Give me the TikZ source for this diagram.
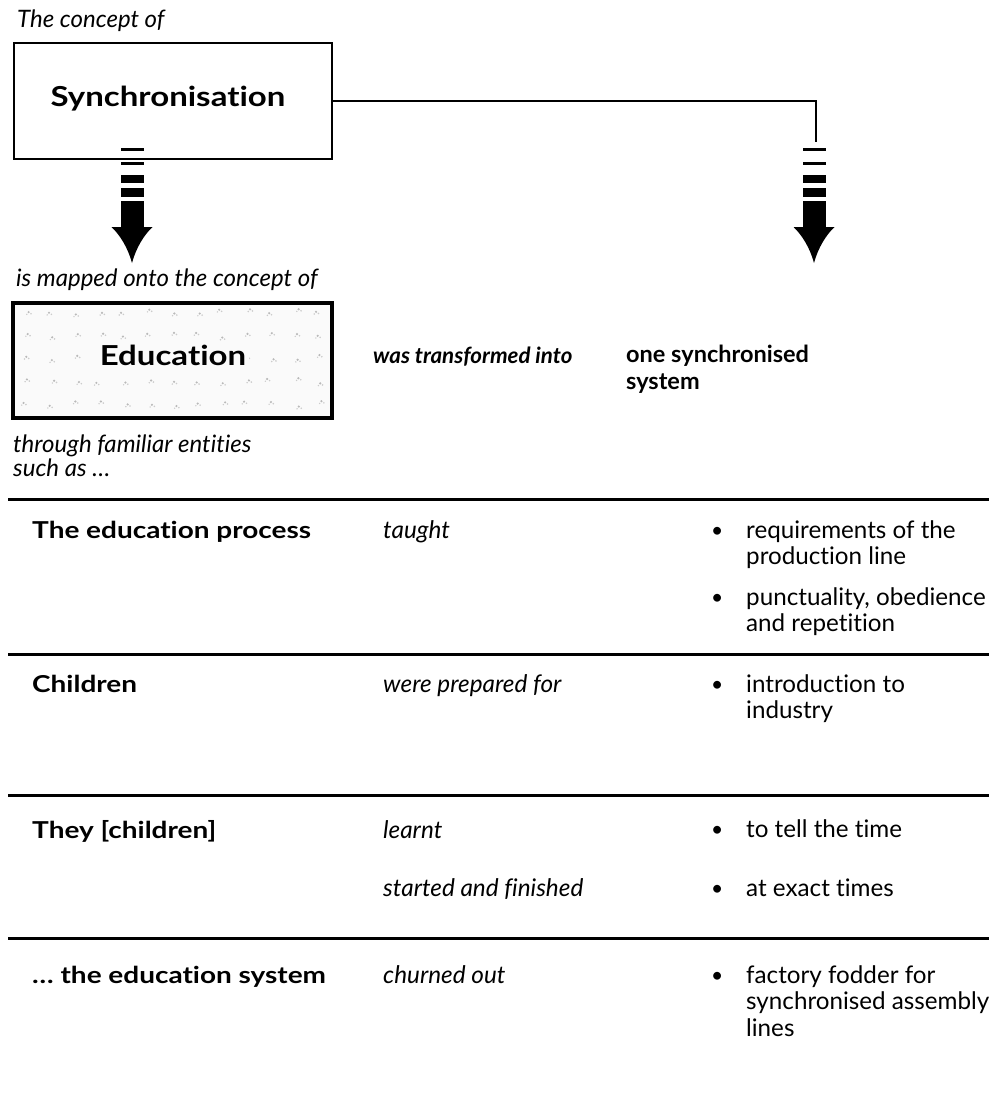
\documentclass[tikz,border=0pt]{standalone}
\usepackage{fontspec}
\setmainfont{Lato}[Ligatures=NoCommon]
\newfontfamily\wbold[FakeStretch=1.2,Ligatures=NoCommon]{Lato}
\begin{document}
\begin{tikzpicture}[x=1pt,y=-1pt,
  captxt/.style={anchor=base west, inner sep=0pt, font=\fontsize{24}{28}\selectfont\itshape},
  labtxt/.style={anchor=base west, inner sep=0pt, font=\wbold\fontsize{23.3}{26}\selectfont\bfseries},
  midtxt/.style={anchor=base west, inner sep=0pt, font=\fontsize{24.3}{28}\selectfont\itshape},
  bodytxt/.style={anchor=base west, inner sep=0pt, font=\fontsize{24.2}{28}\selectfont},
  bultxt/.style={anchor=base west, inner sep=0pt, font=\fontsize{21}{26}\selectfont},
  headtxt/.style={anchor=base west, inner sep=0pt, font=\fontsize{23.5}{26}\selectfont\bfseries},
  bigtxt/.style={font=\wbold\fontsize{27.5}{30}\selectfont\bfseries},
  hrule/.style={line width=3pt},
  conn/.style={line width=2.2pt}]
\useasboundingbox (0,0) rectangle (989,1094);

% top concept box
\node[captxt] (c1) at (17,28) {The concept of};
\node[draw, line width=2.5pt, minimum width=318pt, minimum height=116pt, inner sep=0pt,
      bigtxt] (sync) at (173,101) {};
\node[bigtxt, anchor=base, inner sep=0pt] (synct) at (168,107) {Synchronisation};

% arrows
\newcommand\mkarrow[1]{%
  \fill (#1-11.5,148.5) rectangle (#1+11.5,151);
  \fill (#1-11.5,162.5) rectangle (#1+11.5,165.5);
  \fill (#1-11.5,175) rectangle (#1+11.5,183);
  \fill (#1-11.5,188) rectangle (#1+11.5,197);
  \fill (#1-11.5,201) rectangle (#1+11.5,228);
  \fill (#1-20.5,227) .. controls (#1-12,235) and (#1-4,248) .. (#1,263)
        .. controls (#1+4,248) and (#1+12,235) .. (#1+20.5,227) -- cycle;}
\mkarrow{132}
\mkarrow{814}
\coordinate (rtop) at (816,142);
\draw[conn] (sync.east) -| (rtop);

\node[captxt] (c2) at (16,286) {is mapped onto the concept of};

% education box
\node[draw, line width=3.5pt, fill=gray!4, minimum width=319pt, minimum height=115pt, inner sep=0pt] (edu) at (172.5,360.5) {};
\pgfmathsetseed{11}
\foreach \i in {0,...,12}{
  \foreach \j in {0,...,4}{
    \pgfmathsetmacro\px{26+\i*24.5+rand*4}
    \pgfmathsetmacro\py{312+\j*23+rand*3}
    \fill[gray!55] (\px,\py) circle (1.2pt);
    \fill[gray!40] (\px+2.4,\py+1.6) circle (0.9pt);
    \fill[gray!40] (\px-1.8,\py+2.2) circle (0.8pt);
  }
}
\node[bigtxt, fill=gray!4, inner sep=3pt] (edut) at (173,355) {Education};

\node[captxt, font=\fontsize{22.3}{26}\selectfont\bfseries\itshape] (trans) at (373,363) {was transformed into};
\node[headtxt] (one1) at (626,362) {one synchronised};
\node[headtxt] (one2) at (626,389) {system};

\node[captxt] (c3) at (13,452) {through familiar entities};
\node[captxt] (c4) at (13,476) {such as \ldots};

% rules
\draw[hrule] (8,499) -- (989,499);
\draw[hrule] (8,654) -- (989,654);
\draw[hrule] (8,795) -- (989,795);
\draw[hrule] (8,938) -- (989,938);

% row 1
\node[labtxt] (r1a) at (32,538) {The education process};
\node[midtxt] (r1b) at (383,538) {taught};
\node[bultxt] (b11) at (711,537) {\textbullet};
\node[bodytxt] (r1c) at (746,538) {requirements of the};
\node[bodytxt] (r1d) at (746,564) {production line};
\node[bultxt] (b12) at (711,604) {\textbullet};
\node[bodytxt] (r1e) at (746,605) {punctuality, obedience};
\node[bodytxt] (r1f) at (746,631) {and repetition};

% row 2
\node[labtxt] (r2a) at (32,692) {Children};
\node[midtxt] (r2b) at (383,692) {were prepared for};
\node[bultxt] (b21) at (711,691) {\textbullet};
\node[bodytxt] (r2c) at (746,692) {introduction to};
\node[bodytxt] (r2d) at (746,718) {industry};

% row 3
\node[labtxt] (r3a) at (32,838) {They [children]};
\node[midtxt] (r3b) at (383,838) {learnt};
\node[bultxt] (b31) at (711,836) {\textbullet};
\node[bodytxt] (r3c) at (746,837) {to tell the time};
\node[midtxt] (r3d) at (383,896) {started and finished};
\node[bultxt] (b32) at (711,895) {\textbullet};
\node[bodytxt] (r3e) at (746,896) {at exact times};

% row 4
\node[labtxt] (r4a) at (32,983) {\ldots{} the education system};
\node[midtxt] (r4b) at (383,983) {churned out};
\node[bultxt] (b41) at (711,982) {\textbullet};
\node[bodytxt] (r4c) at (746,983) {factory fodder for};
\node[bodytxt] (r4d) at (746,1009) {synchronised assembly};
\node[bodytxt] (r4e) at (746,1036) {lines};
\end{tikzpicture}
\end{document}
